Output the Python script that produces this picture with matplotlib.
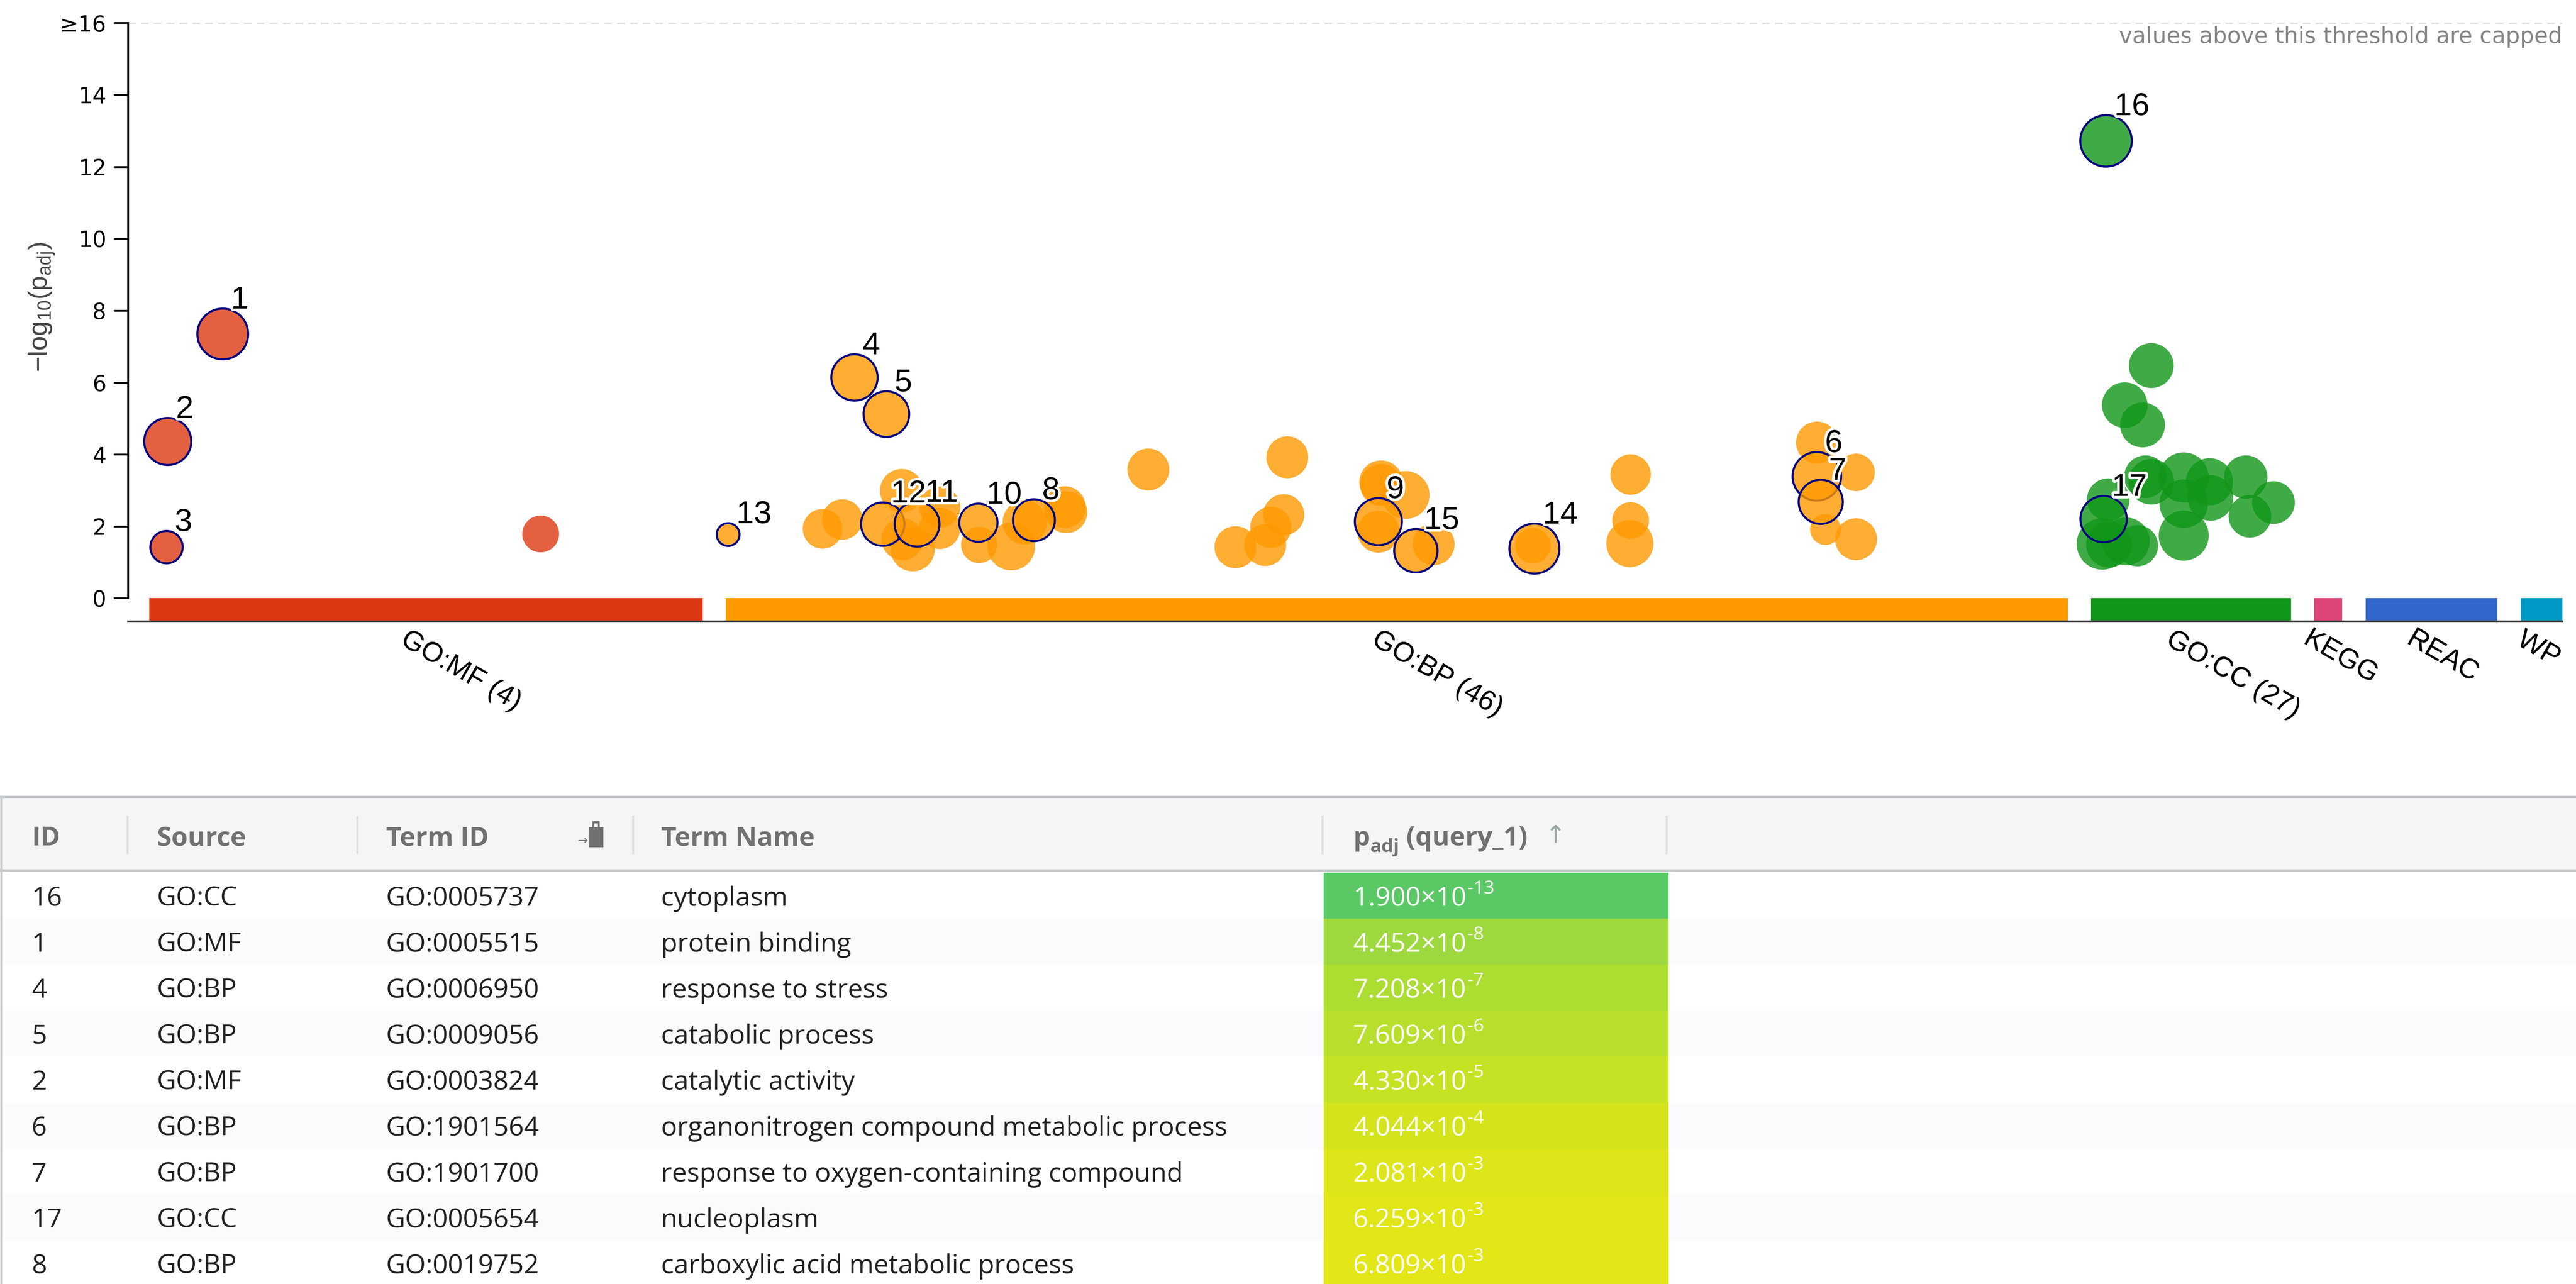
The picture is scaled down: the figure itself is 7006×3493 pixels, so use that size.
import matplotlib
matplotlib.use("Agg")
import matplotlib.pyplot as plt
import matplotlib.patheffects as pe
import matplotlib.transforms as mtrans
from matplotlib.colors import to_rgba
from matplotlib.patches import Rectangle

W, H, DPI = 7006, 3493, 100

# ---------------- manhattan plot data ----------------
sources = ["GO:MF", "GO:BP", "GO:CC", "KEGG", "REAC", "WP"]
source_counts = [4, 46, 27, 0, 0, 0]
# source ranges on the 0..1000 term-position scale
source_start = [8.8, 245.6, 806.4, 898.1, 919.3, 983.0]
source_end = [236.1, 796.9, 888.6, 909.6, 973.3, 1000.0]
source_colors = ["#dc3912", "#ff9900", "#109618", "#dd4477", "#3366cc", "#0099c6"]

# per source: term position, -log10(p_adj), circle radius (term size), highlight id (0 = none)
mf_x = [39.0, 16.4, 15.9, 169.5]
mf_y = [7.35, 4.36, 1.42, 1.79]
mf_r = [69, 64, 44, 50]
mf_id = [1, 2, 3, 0]

bp_x = [246.6, 298.5, 311.6, 285.4, 293.5, 310.1, 324.2, 317.9, 333.5, 318.2,
        322.4, 333.5, 349.4, 349.7, 362.9, 368.4, 372.2, 384.9, 385.5, 419.2,
        476.3, 474.8, 469.5, 455.0, 467.2, 514.8, 514.8, 524.9, 513.7, 513.7,
        529.1, 536.4, 577.8, 577.2, 617.3, 617.3, 617.0, 693.9, 693.8, 709.9,
        695.4, 697.4, 709.9]
bp_y = [1.77, 6.14, 5.12, 1.93, 2.19, 2.06, 2.06, 2.99, 2.53, 1.64,
        1.36, 1.94, 2.10, 1.48, 1.44, 2.11, 2.17, 2.53, 2.39, 3.58,
        3.92, 2.32, 1.97, 1.42, 1.48, 3.23, 3.15, 2.87, 2.13, 1.85,
        1.32, 1.50, 1.38, 1.46, 3.44, 2.16, 1.52, 4.33, 3.39, 3.50,
        2.68, 1.91, 1.64]
bp_r = [31, 63, 62, 54, 55, 59, 61, 59, 56, 57,
        60, 56, 52, 49, 65, 60, 57, 57, 57, 57,
        57, 56, 56, 57, 57, 59, 57, 65, 64, 57,
        59, 57, 68, 48, 55, 50, 64, 57, 66, 51,
        60, 42, 57]
bp_id = [13, 4, 5, 0, 0, 12, 11, 0, 0, 0,
         0, 0, 10, 0, 0, 0, 8, 0, 0, 0,
         0, 0, 0, 0, 0, 0, 0, 0, 9, 0,
         15, 0, 14, 0, 0, 0, 0, 0, 6, 0,
         7, 0, 0]

cc_x = [812.6, 811.6, 831.2, 820.3, 827.6, 828.8, 831.2, 844.5, 855.1, 870.0,
        844.5, 855.5, 844.5, 871.7, 881.4, 813.5, 811.1, 813.8, 820.8, 825.5]
cc_y = [12.72, 2.20, 6.47, 5.37, 4.82, 3.38, 3.24, 3.36, 3.24, 3.37,
        2.63, 2.79, 1.74, 2.28, 2.66, 2.74, 1.51, 1.49, 1.58, 1.46]
cc_r = [70, 63, 61, 62, 61, 58, 62, 68, 64, 59,
        66, 62, 68, 58, 58, 58, 70, 62, 65, 56]
cc_id = [16, 17, 0, 0, 0, 0, 0, 0, 0, 0,
         0, 0, 0, 0, 0, 0, 0, 0, 0, 0]

yticks = [0, 2, 4, 6, 8, 10, 12, 14, 16]
ytick_labels = ["0", "2", "4", "6", "8", "10", "12", "14", "\u226516"]

# ---------------- table data ----------------
tbl_ids = [16, 1, 4, 5, 2, 6, 7, 17, 8]
tbl_sources = ["GO:CC", "GO:MF", "GO:BP", "GO:BP", "GO:MF", "GO:BP", "GO:BP", "GO:CC", "GO:BP"]
tbl_term_ids = ["GO:0005737", "GO:0005515", "GO:0006950", "GO:0009056", "GO:0003824",
                "GO:1901564", "GO:1901700", "GO:0005654", "GO:0019752"]
tbl_names = ["cytoplasm", "protein binding", "response to stress", "catabolic process",
             "catalytic activity", "organonitrogen compound metabolic process",
             "response to oxygen-containing compound", "nucleoplasm",
             "carboxylic acid metabolic process"]
tbl_mant = ["1.900", "4.452", "7.208", "7.609", "4.330", "4.044", "2.081", "6.259", "6.809"]
tbl_exp = [-13, -8, -7, -6, -5, -4, -3, -3, -3]
tbl_cell_colors = ["#5bc866", "#9dd93e", "#acdd31", "#b7df2b", "#c5e224",
                   "#d3e41d", "#dde61a", "#e1e618", "#e3e617"]

CHART_FONT = ["Liberation Sans", "DejaVu Sans"]
TICK_FONT = ["DejaVu Sans"]
TABLE_FONT = ["Open Sans", "DejaVu Sans"]
plt.rcParams["mathtext.fontset"] = "custom"
plt.rcParams["mathtext.rm"] = "Liberation Sans"
plt.rcParams["mathtext.it"] = "Liberation Sans:italic"


def pt(px):
    return px * 72 / DPI


fig = plt.figure(figsize=((W + 0.01) / DPI, (H + 0.01) / DPI), dpi=DPI)
fig.patch.set_facecolor("white")

# ---------------- manhattan axes ----------------
ax = fig.add_axes([347.6 / W, 1 - 1690 / H, 6621 / W, 1627.5 / H])
ax.set_xlim(0, 1000)
ax.set_ylim(-0.64, 16)

bar_w = [e - s for s, e in zip(source_start, source_end)]
ax.bar(source_start, 0.64, width=bar_w, bottom=-0.64, align="edge",
       color=source_colors, linewidth=0, zorder=1)

ax.axhline(16, color="#c8c8c8", lw=3, ls=(0, (5, 3.4)), zorder=0)
ax.text(1000, 15.44, "values above this threshold are capped", ha="right",
        va="baseline", fontsize=44, color="#858585", family=TICK_FONT)

groups = [(0, mf_x, mf_y, mf_r, mf_id), (1, bp_x, bp_y, bp_r, bp_id),
          (2, cc_x, cc_y, cc_r, cc_id)]
for k, xs, ys, rs, ids in groups:
    fc = to_rgba(source_colors[k], 0.8)
    plain = [i for i in range(len(xs)) if not ids[i]]
    ax.scatter([xs[i] for i in plain], [ys[i] for i in plain],
               s=[(2 * pt(rs[i])) ** 2 for i in plain], color=fc,
               linewidths=0, zorder=2, clip_on=False)
for k, xs, ys, rs, ids in groups:
    fc = to_rgba(source_colors[k], 0.8)
    hi = [i for i in range(len(xs)) if ids[i]]
    ax.scatter([xs[i] for i in hi], [ys[i] for i in hi],
               s=[(2 * pt(rs[i])) ** 2 for i in hi], facecolors=fc,
               edgecolors="#000080", linewidths=4, zorder=3, clip_on=False)
    for i in hi:
        ax.annotate(str(ids[i]), (xs[i], ys[i]), xytext=(16, pt(rs[i])),
                    textcoords="offset points", ha="left", va="baseline",
                    fontsize=62, family=CHART_FONT, color="black", zorder=5,
                    path_effects=[pe.withStroke(linewidth=10, foreground="white")])

for side in ("top", "right"):
    ax.spines[side].set_visible(False)
ax.spines["left"].set_bounds(0, 16)
ax.spines["left"].set_linewidth(3.5)
ax.spines["bottom"].set_linewidth(3)
ax.spines["bottom"].set_color("#333333")

ax.set_yticks(yticks)
ax.set_yticklabels(ytick_labels, family=TICK_FONT)
ax.tick_params(axis="y", length=28, width=3.5, pad=14, labelsize=43)
ax.set_xticks([])

ax.set_ylabel(r"$\mathrm{-log_{10}(p_{adj})}$", fontsize=52, color="#444444")
ax.yaxis.set_label_coords(-0.0294, 0.525)

lab_trans = mtrans.blended_transform_factory(ax.transData, ax.transAxes) + \
    mtrans.ScaledTranslation(-32 / 72, -10 / 72, fig.dpi_scale_trans)
for name, n, s, e in zip(sources, source_counts, source_start, source_end):
    label = f"{name} ({n})" if n else name
    ax.text((s + e) / 2, 0, label, transform=lab_trans, rotation=-30,
            rotation_mode="anchor", ha="left", va="top", fontsize=55,
            family=CHART_FONT, color="black", clip_on=False)

# ---------------- table ----------------
tax = fig.add_axes([0, 0, 1, (H - 2150) / H])
tax.set_xlim(0, W)
tax.set_ylim(H, 2150)
tax.axis("off")

header_top, header_bottom = 2168, 2368
row_top, row_h = 2374, 125
col_x = [86, 427, 1050, 1798, 3680]
col_sep = [347, 972, 1722, 3597, 4533]
p_left, p_right = 3600, 4538
head_color = "#707271"
border = "#c2c6c9"
fs = 52

tax.add_patch(Rectangle((0, header_top), W, header_bottom - header_top,
                        color="#f4f5f4", lw=0))
for yy in (header_top, header_bottom):
    tax.plot([0, W], [yy, yy], color=border, lw=4.3, solid_capstyle="butt")
tax.plot([2.5, 2.5], [header_top, H], color="#c8ccce", lw=3.6)
for xx in col_sep:
    tax.plot([xx, xx], [2222, 2321], color="#dcdfe0", lw=4)

head_base = 2300
for xx, txt in zip(col_x[:4], ["ID", "Source", "Term ID", "Term Name"]):
    tax.text(xx, head_base, txt, fontsize=fs, fontweight="bold", color=head_color,
             family=TABLE_FONT, va="baseline")
t_p = tax.text(col_x[4], head_base, "p", fontsize=fs, fontweight="bold",
               color=head_color, family=TABLE_FONT, va="baseline")
t_adj = tax.annotate("adj", xy=(1, 0), xycoords=t_p, xytext=(1, -9),
                     textcoords="offset points", fontsize=37, fontweight="bold",
                     color=head_color, family=TABLE_FONT, va="bottom")
tax.annotate(" (query_1)", xy=(1, 0), xycoords=(t_adj, t_p), fontsize=fs,
             fontweight="bold", color=head_color, family=TABLE_FONT, va="bottom")
tax.text(4230, 2293, "\u2191", fontsize=48, color="#9aa7a7", ha="center",
         va="baseline", family=["DejaVu Sans"])
# copy icon next to Term ID
tax.add_patch(Rectangle((1601, 2250), 40, 55, color=head_color, lw=0))
tax.add_patch(Rectangle((1611, 2234), 20, 20, color=head_color, lw=0))
tax.add_patch(Rectangle((1616, 2240), 10, 10, color="#f4f5f4", lw=0))
tax.text(1598, 2297, "\u2192", fontsize=24, color=head_color, ha="right",
         va="baseline", family=["DejaVu Sans"])

for i in range(len(tbl_ids)):
    y0 = row_top + i * row_h
    bg = "#ffffff" if i % 2 == 0 else "#fafbfd"
    tax.add_patch(Rectangle((5, y0), W, row_h, color=bg, lw=0))
    tax.add_patch(Rectangle((p_left, y0), p_right - p_left, row_h,
                            color=tbl_cell_colors[i], lw=0))
    base = y0 + row_h / 2 + 27
    cells = [str(tbl_ids[i]), tbl_sources[i], tbl_term_ids[i], tbl_names[i]]
    for xx, txt in zip(col_x[:4], cells):
        tax.text(xx, base, txt, fontsize=fs, color="#222222", family=TABLE_FONT,
                 va="baseline")
    t = tax.text(col_x[4], base, f"{tbl_mant[i]}\u00d710", fontsize=fs,
                 color="white", family=TABLE_FONT, va="baseline")
    tax.annotate(f"-{abs(tbl_exp[i])}", xy=(1, 0), xycoords=t, xytext=(2, 27),
                 textcoords="offset points", fontsize=36, color="white",
                 family=TABLE_FONT, va="bottom")

fig.savefig("out.png", dpi=DPI)
